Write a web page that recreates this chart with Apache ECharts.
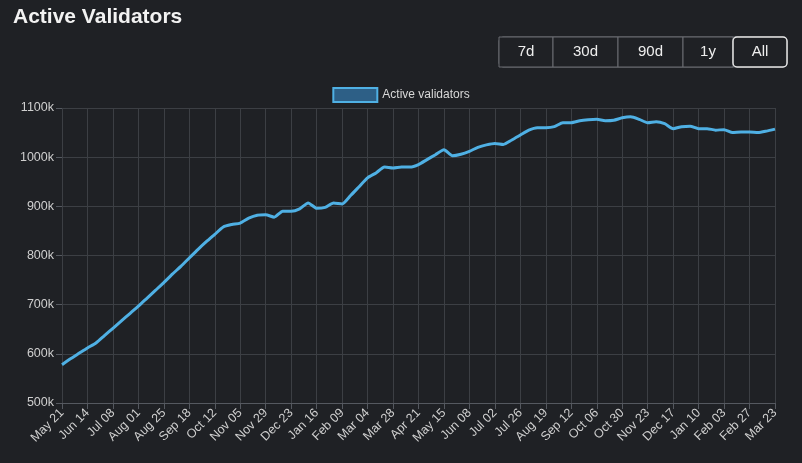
<!DOCTYPE html>
<html>
<head>
<meta charset="utf-8">
<script src="https://cdn.jsdelivr.net/npm/echarts@6/dist/echarts.min.js"></script>
<style>
html, body { margin: 0; padding: 0; background: #1f2125; }
#chart { width: 802px; height: 463px; }
</style>
</head>
<body>
<div id="chart"></div>
<script>
// tick labels, one every 24 days (3 data points of 8 days each)
var tickLabels = ['May 21', 'Jun 14', 'Jul 08', 'Aug 01', 'Aug 25', 'Sep 18', 'Oct 12', 'Nov 05', 'Nov 29', 'Dec 23',
    'Jan 16', 'Feb 09', 'Mar 04', 'Mar 28', 'Apr 21', 'May 15', 'Jun 08', 'Jul 02', 'Jul 26', 'Aug 19',
    'Sep 12', 'Oct 06', 'Oct 30', 'Nov 23', 'Dec 17', 'Jan 10', 'Feb 03', 'Feb 27', 'Mar 23'];
// active validators (thousands), one point every 8 days
var validators = [
    578, 590, 601, 612, 622, 637, 652, 667, 682, 697, 713, 729,
    745, 762, 778, 795, 812, 828, 843, 858, 863, 866, 876, 882,
    883, 878, 890, 890, 895, 907, 896, 898, 907, 905, 922, 940,
    958, 968, 980, 978, 980, 980, 985, 995, 1005, 1015, 1003, 1006,
    1012, 1020, 1025, 1028, 1026, 1035, 1045, 1055, 1060, 1060, 1062, 1070,
    1070, 1074, 1076, 1077, 1074, 1075, 1080, 1082, 1077, 1070, 1072, 1068,
    1058, 1062, 1063, 1058, 1058, 1055, 1056, 1050, 1051, 1051, 1050, 1053,
    1057
];
var buttons = ['7d', '30d', '90d', '1y', 'All'];
var buttonWidths = [54, 65, 65, 50, 54];

var categories = [];
for (var i = 0; i < validators.length; i++) {
    categories.push(i % 3 === 0 ? tickLabels[i / 3] : tickLabels[Math.floor(i / 3)] + ' +' + (i % 3) * 8);
}

var chartDom = document.getElementById('chart');
var myChart = echarts.init(chartDom);

var buttonEls = [];
var bx = 499;
for (var b = 0; b < buttons.length; b++) {
    var w = buttonWidths[b];
    buttonEls.push({
        type: 'rect',
        shape: { x: bx, y: 37, width: w, height: 30, r: b === 4 ? 4 : 0 },
        style: { fill: '#1f2125', stroke: b === 4 ? '#e6e6e6' : '#6a6d72', lineWidth: b === 4 ? 1.5 : 1 },
        z: b === 4 ? 11 : 10
    });
    buttonEls.push({
        type: 'text',
        x: bx + w / 2, y: 52,
        style: { text: buttons[b], fill: '#eeeeee', font: '15px "Liberation Sans", Arial', align: 'center', verticalAlign: 'middle' },
        z: 12
    });
    bx += w;
}
buttonEls.unshift({
    type: 'rect',
    shape: { x: 499, y: 37, width: 288, height: 30, r: 4 },
    style: { fill: 'none', stroke: '#6a6d72', lineWidth: 1 },
    z: 9
});

var option = {
    backgroundColor: '#1f2125',
    animation: false,
    title: {
        text: 'Active Validators',
        left: 8, top: 2,
        textStyle: { color: '#f2f2f2', fontSize: 21, fontWeight: 'bold', fontFamily: 'Liberation Sans' }
    },
    legend: {
        top: 82, left: 'center',
        itemWidth: 44, itemHeight: 14,
        textStyle: { color: '#d8d8d8', fontSize: 12, fontFamily: 'Liberation Sans' },
        data: [{ name: 'Active validators', icon: 'rect', itemStyle: { color: '#2d5f86', borderColor: '#4fb0e4', borderWidth: 2 } }]
    },
    graphic: buttonEls,
    grid: { left: 62, right: 27, top: 108, bottom: 60 },
    xAxis: {
        type: 'category',
        boundaryGap: false,
        data: categories,
        axisLine: { lineStyle: { color: '#555960' } },
        axisTick: { show: true, interval: 2, length: 6, lineStyle: { color: '#555960' } },
        axisLabel: { interval: 2, rotate: 45, color: '#cfcfcf', fontSize: 12.5, fontFamily: 'Liberation Sans', margin: 8 },
        splitLine: { show: true, interval: 2, lineStyle: { color: '#3c3f44' } }
    },
    yAxis: {
        type: 'value',
        min: 500, max: 1100, interval: 100,
        axisLine: { show: false },
        axisTick: { show: true, length: 6, lineStyle: { color: '#555960' } },
        axisLabel: {
            color: '#cfcfcf', fontSize: 12.5, fontFamily: 'Liberation Sans',
            formatter: function (v) { return v + 'k'; }
        },
        splitLine: { lineStyle: { color: '#3c3f44' } }
    },
    series: [{
        name: 'Active validators',
        type: 'line',
        data: validators,
        showSymbol: false,
        smooth: 0.2,
        lineStyle: { color: '#4fb0e4', width: 3 },
        itemStyle: { color: '#4fb0e4' }
    }]
};

if (option && typeof option === 'object') {
    myChart.setOption(option);
}
</script>
</body>
</html>
